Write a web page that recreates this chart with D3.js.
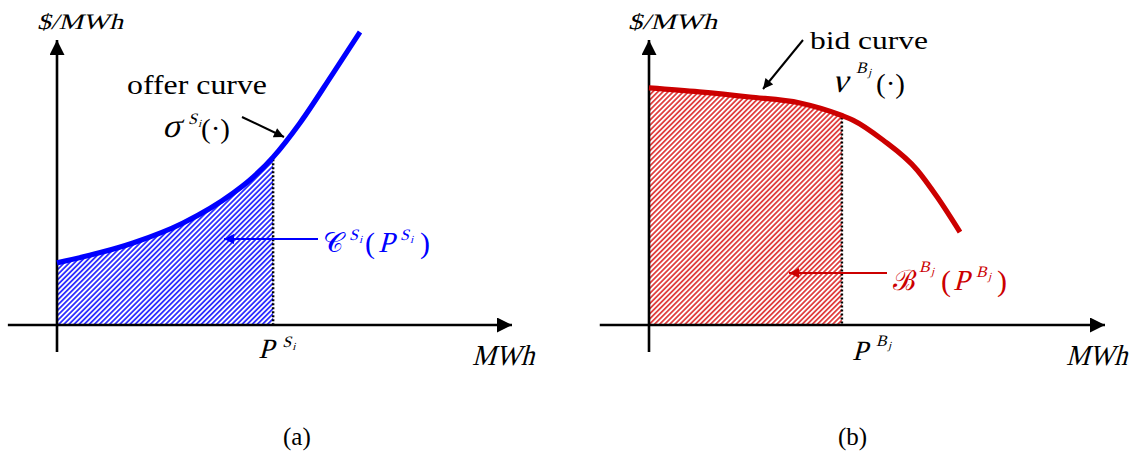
<!DOCTYPE html>
<html>
<head>
<meta charset="utf-8">
<script src="https://cdn.jsdelivr.net/npm/d3@7"></script>
<style>
  html, body { margin: 0; padding: 0; background: #fff; }
  svg { display: block; }
</style>
</head>
<body>
<svg id="chart" width="1140" height="452"></svg>
<script>
// Supply side: offer curve (quantity, price)
const offerQty   = [0, 9.5, 16.7, 27.7, 38.7, 42.4, 47.5, 53.4, 60.7, 66.6];
const offerPrice = [21.8, 25.4, 28.8, 35.8, 46.3, 50.9, 58.9, 70.9, 88.4, 102.8];
const offerCleared = 47.5;

// Demand side: bid curve (quantity, price)
const bidQty   = [0, 11.0, 22.1, 33.1, 42.3, 44.7, 51.3, 58.8, 63.2, 68.2];
const bidPrice = [83.2, 81.8, 80.0, 77.9, 73.5, 71.9, 64.9, 54.4, 44.9, 32.6];
const bidCleared = 42.3;

const axisLabelX = "MWh";
const axisLabelY = "$/MWh";
const panelTags = ["(a)", "(b)"];

const BLUE = "#0000ff";
const RED = "#cc0000";
const SERIF = "Liberation Serif";

const svg = d3.select("#chart");
const defs = svg.append("defs");

// diagonal hatch fills
function hatch(id, color, bg) {
  const p = defs.append("pattern")
    .attr("id", id)
    .attr("patternUnits", "userSpaceOnUse")
    .attr("width", 3.6).attr("height", 10)
    .attr("patternTransform", "rotate(45)");
  p.append("rect").attr("width", 3.6).attr("height", 10).attr("fill", bg);
  p.append("rect").attr("width", 1.8).attr("height", 10).attr("fill", color);
}
hatch("hatchBlue", "#3030ff", "#ffffff");
hatch("hatchRed", "#e04040", "#ffffff");

function marker(id, color, w, h) {
  defs.append("marker")
    .attr("id", id)
    .attr("viewBox", "0 0 10 10")
    .attr("refX", 10).attr("refY", 5)
    .attr("markerUnits", "userSpaceOnUse")
    .attr("markerWidth", w).attr("markerHeight", h)
    .attr("orient", "auto")
    .append("path").attr("d", "M0,0 L10,5 L0,10 Z").attr("fill", color);
}
marker("axisHead", "#000", 15, 15);
marker("headBlack", "#000", 11, 10);
marker("headBlue", BLUE, 11, 10);
marker("headRed", RED, 11, 10);

// text helper; slanted glyphs are drawn by shearing the upright serif face
function txt(g, s, x, y, o = {}) {
  const t = g.append("text")
    .attr("font-family", o.family || SERIF)
    .attr("font-size", o.size || 26)
    .attr("fill", o.fill || "#000")
    .text(s);
  if (o.italic) {
    t.attr("x", 0).attr("y", 0)
     .attr("transform", `translate(${x},${y}) skewX(-15)`);
  } else {
    t.attr("x", x).attr("y", y);
  }
  if (o.width) t.attr("textLength", o.width).attr("lengthAdjust", "spacingAndGlyphs");
  return t;
}

function panel(cfg) {
  const x = d3.scaleLinear().domain([0, 100]).range(cfg.xRange);
  const y = d3.scaleLinear().domain([0, 100]).range([325, 40]);
  const g = svg.append("g");
  const pts = cfg.qty.map((q, i) => [q, cfg.price[i]]);
  const curve = d3.curveMonotoneX;

  // hatched area up to the cleared quantity
  const areaPts = pts.filter(d => d[0] <= cfg.cleared);
  g.append("path")
    .datum(areaPts)
    .attr("d", d3.area().x(d => x(d[0])).y0(y(0)).y1(d => y(d[1])).curve(curve))
    .attr("fill", `url(#${cfg.hatch})`);

  // dotted drop line at the cleared quantity
  const pc = pts.find(d => d[0] === cfg.cleared)[1];
  g.append("line")
    .attr("x1", x(cfg.cleared)).attr("x2", x(cfg.cleared))
    .attr("y1", y(pc) + 2).attr("y2", y(0))
    .attr("stroke", "#000").attr("stroke-width", 2.5)
    .attr("stroke-dasharray", "2,2");

  // axes
  g.append("line")
    .attr("x1", x(-10.8)).attr("x2", x(100))
    .attr("y1", y(0)).attr("y2", y(0))
    .attr("stroke", "#000").attr("stroke-width", 2.6)
    .attr("marker-end", "url(#axisHead)");
  g.append("line")
    .attr("x1", x(0)).attr("x2", x(0))
    .attr("y1", y(-9.5)).attr("y2", y(100))
    .attr("stroke", "#000").attr("stroke-width", 2.6)
    .attr("marker-end", "url(#axisHead)");

  // curve
  g.append("path")
    .datum(pts)
    .attr("d", d3.line().x(d => x(d[0])).y(d => y(d[1])).curve(curve))
    .attr("fill", "none")
    .attr("stroke", cfg.color)
    .attr("stroke-width", 5.2);

  return { g, x, y };
}

// ---------- panel (a): offer curve ----------
const A = panel({ xRange: [57, 512], qty: offerQty, price: offerPrice,
  cleared: offerCleared, color: BLUE, hatch: "hatchBlue" });

txt(A.g, axisLabelY, 37, 29, { size: 22, italic: true, width: 86 });
txt(A.g, axisLabelX, 472, 365, { size: 29, italic: true, width: 62 });
txt(A.g, "offer curve", 127, 94, { size: 28, width: 140 });
txt(A.g, "σ", 162, 137, { size: 34, italic: true });
txt(A.g, "S", 188, 124, { size: 16, italic: true });
txt(A.g, "i", 198, 127, { size: 11, italic: true });
txt(A.g, "(·)", 201, 138, { size: 28, width: 29 });
A.g.append("line").attr("x1", 242).attr("y1", 117).attr("x2", 284).attr("y2", 137)
  .attr("stroke", "#000").attr("stroke-width", 2).attr("marker-end", "url(#headBlack)");

// cost label
A.g.append("line").attr("x1", 318).attr("y1", 239).attr("x2", 224).attr("y2", 239)
  .attr("stroke", BLUE).attr("stroke-width", 2.2).attr("marker-end", "url(#headBlue)");
txt(A.g, "𝒞", 323, 252, { size: 28, fill: BLUE });
txt(A.g, "S", 349, 240, { size: 16, italic: true, fill: BLUE });
txt(A.g, "i", 359, 243, { size: 11, italic: true, fill: BLUE });
txt(A.g, "(", 365, 253, { size: 30, fill: BLUE });
txt(A.g, "P", 378, 252, { size: 29, italic: true, fill: BLUE });
txt(A.g, "S", 400, 240, { size: 16, italic: true, fill: BLUE });
txt(A.g, "i", 410, 243, { size: 11, italic: true, fill: BLUE });
txt(A.g, ")", 420, 253, { size: 30, fill: BLUE });

// cleared quantity label
txt(A.g, "P", A.x(offerCleared) - 15, 358, { size: 28, italic: true });
txt(A.g, "S", A.x(offerCleared) + 9, 347, { size: 16, italic: true });
txt(A.g, "i", A.x(offerCleared) + 19, 350, { size: 11, italic: true });

txt(A.g, panelTags[0], 283, 445, { size: 25 });

// ---------- panel (b): bid curve ----------
const B = panel({ xRange: [649, 1105], qty: bidQty, price: bidPrice,
  cleared: bidCleared, color: RED, hatch: "hatchRed" });

txt(B.g, axisLabelY, 628, 29, { size: 22, italic: true, width: 89 });
txt(B.g, axisLabelX, 1066, 365, { size: 29, italic: true, width: 61 });
txt(B.g, "bid curve", 810, 49, { size: 26, width: 118 });
B.g.append("line").attr("x1", 803).attr("y1", 40).attr("x2", 763).attr("y2", 89)
  .attr("stroke", "#000").attr("stroke-width", 2).attr("marker-end", "url(#headBlack)");
txt(B.g, "ν", 832, 92, { size: 34, italic: true });
txt(B.g, "B", 856, 73, { size: 16, italic: true });
txt(B.g, "j", 868, 76, { size: 11, italic: true });
txt(B.g, "(·)", 876, 93, { size: 28, width: 29 });

// benefit label
B.g.append("line").attr("x1", 887).attr("y1", 273).attr("x2", 789).attr("y2", 273)
  .attr("stroke", RED).attr("stroke-width", 2.2).attr("marker-end", "url(#headRed)");
txt(B.g, "ℬ", 893, 290, { size: 28, fill: RED });
txt(B.g, "B", 919, 272, { size: 16, italic: true, fill: RED });
txt(B.g, "j", 931, 275, { size: 11, italic: true, fill: RED });
txt(B.g, "(", 941, 291, { size: 30, fill: RED });
txt(B.g, "P", 953, 290, { size: 29, italic: true, fill: RED });
txt(B.g, "B", 976, 277, { size: 16, italic: true, fill: RED });
txt(B.g, "j", 988, 280, { size: 11, italic: true, fill: RED });
txt(B.g, ")", 997, 291, { size: 30, fill: RED });

txt(B.g, "P", B.x(bidCleared) + 10, 360, { size: 28, italic: true });
txt(B.g, "B", B.x(bidCleared) + 34, 346, { size: 16, italic: true });
txt(B.g, "j", B.x(bidCleared) + 46, 349, { size: 11, italic: true });

txt(B.g, panelTags[1], 838, 445, { size: 25 });
</script>
</body>
</html>
